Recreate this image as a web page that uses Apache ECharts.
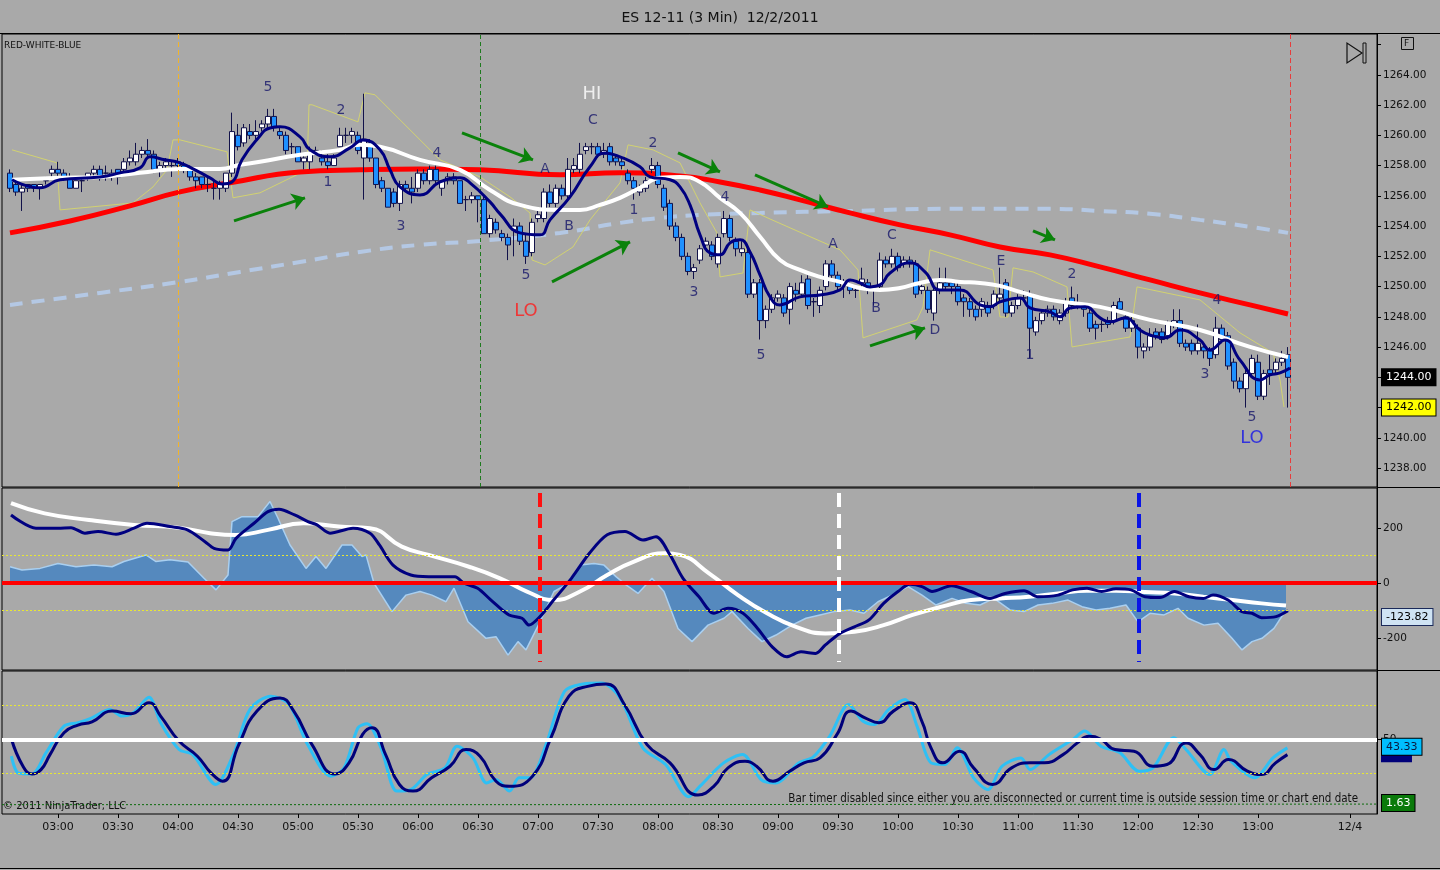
<!DOCTYPE html>
<html><head><meta charset="utf-8">
<script src="https://cdn.jsdelivr.net/npm/echarts@6/dist/echarts.min.js"></script>
<style>html,body{margin:0;padding:0;background:#A9A9A9;}#c{width:1440px;height:870px;}</style>
</head><body><div id="c"></div>
<script>
// ---------- price bars (3-minute, ES 12-11) ----------
const barOpen = [1257.5,1256.75,1256.25,1256.75,1256.75,1256.5,1257,1257.5,1257.75,1257.5,1257.25,1256.5,1257,1257.25,1257.5,1257.75,1257.5,1257.25,1257.75,1257.75,
1258.25,1258.25,1258.75,1259,1258.75,1257.75,1258,1258,1258.25,1258,1257.75,1257.25,1257.25,1256.75,1256.5,1256.5,1256.5,1257.5,1260,1259.5,
1260.25,1260,1260.5,1260.75,1261.25,1260.25,1260,1259.25,1259.25,1258.25,1258.25,1259,1258.5,1258.25,1258,1259.25,1260,1260,1260,1258.5,
1259.5,1258.5,1257,1256.5,1256.25,1255.5,1256.75,1256.5,1256.5,1257.5,1257,1257.75,1256.5,1257,1257.25,1257,1255.75,1255.75,1256,1255.75,
1253.5,1254.25,1253.5,1253.25,1253.75,1254,1253,1252.25,1254.5,1254.5,1256.25,1255.5,1256.5,1256,1257.75,1257.75,1259,1259.25,1259.25,1258.75,
1259.25,1258.5,1258.25,1257.5,1257,1256.25,1256.5,1257.75,1258,1256.5,1255.5,1254,1253.25,1252,1251,1251.75,1252.75,1252.75,1251.5,1253.5,
1254.5,1253,1252.25,1252.25,1249.5,1250.25,1247.75,1248.5,1249.25,1249.25,1248.5,1249.75,1249.5,1250.5,1249,1248.75,1250,1251.5,1250.75,1250.25,
1250,1249.75,1250.25,1250.25,1249.75,1250,1251.75,1251.5,1252,1251.5,1251.75,1251.5,1249.75,1249.75,1248.25,1249.75,1250.25,1250.25,1250,1249.25,
1249,1248.5,1248.5,1248.75,1248.75,1249.25,1250.25,1248.25,1248.75,1249.25,1249.5,1247,1247.75,1248.25,1248.5,1247.75,1248.25,1249.25,1248.75,1248.75,
1248.25,1247.5,1247.5,1247.75,1247.75,1249,1248,1247.25,1247.25,1245.75,1246,1247,1247,1246.75,1247.5,1247.75,1246.25,1246.25,1245.75,1246,
1245.75,1245.5,1247.25,1246.75,1245,1243.75,1243.25,1244.25,1245,1242.75,1244.5,1244.5,1245,1245.5];
const barHigh = [1257.75,1257,1256.75,1256.75,1256.75,1256.75,1257.25,1258,1258.25,1257.75,1257.5,1257,1257.25,1257.5,1258,1258,1258,1257.75,1257.75,1258.5,
1259,1259.5,1259.25,1259.75,1259,1258.25,1258.5,1258.25,1258.5,1258.25,1258,1257.5,1257.25,1257.25,1257,1257,1257.5,1261.5,1260.75,1260.75,
1260.75,1261,1261,1261.75,1261.75,1260.5,1260.25,1259.5,1259.25,1258.75,1259.25,1259.25,1259,1258.75,1258.75,1260.5,1260.5,1260.5,1260.25,1262.75,
1259.75,1258.5,1257.25,1256.5,1256.5,1257,1257,1257.25,1257.75,1257.75,1258,1258,1257,1257.5,1257.5,1257,1256,1256.25,1256,1256,
1254.75,1254.5,1253.75,1253.5,1254.5,1254.25,1253.5,1254.5,1255,1256.5,1256.75,1256.75,1256.75,1258.5,1258.5,1259.5,1259.5,1259.5,1259.5,1259.5,
1259.5,1258.75,1258.5,1257.75,1257.25,1256.75,1257.25,1258.5,1258.25,1256.75,1255.75,1254.25,1253.5,1252.25,1251.5,1252.75,1253.25,1253,1253.5,1255,
1254.75,1253.25,1253,1252.5,1250.5,1250.5,1248.75,1249.5,1249.75,1249.5,1250.25,1250.25,1250.75,1250.75,1249.25,1250,1251.75,1251.75,1251,1250.5,
1250.25,1250,1251.25,1250.5,1250,1252.25,1252,1252.5,1252.25,1252,1252,1251.75,1250.25,1250,1250,1251.25,1251.25,1250.5,1250.25,1249.5,
1249.25,1248.75,1249.25,1249,1249.75,1251.25,1250.5,1249,1249.5,1249.75,1249.75,1248,1248.5,1248.75,1248.75,1248.5,1249.25,1250,1249.5,1248.75,
1248.5,1247.75,1247.75,1248,1249,1249.25,1248.25,1248,1247.5,1246.25,1247.25,1247.25,1247.25,1247.75,1248.5,1248.5,1246.5,1246.5,1247.5,1246.25,
1246,1248,1247.5,1247,1245.25,1244,1244.5,1245.5,1245.5,1244.5,1245.5,1245.25,1245.75,1246];
const barLow = [1256.25,1256,1255,1256.25,1256.25,1255.75,1256.75,1257.25,1257.25,1257,1256.5,1256.5,1256.25,1257,1257.25,1257,1257,1257,1256.75,1257.5,
1258,1258,1258.5,1258.5,1257.5,1257.25,1257.75,1257.25,1257.75,1257.5,1257,1256.5,1256.5,1256.25,1255.75,1255.75,1256.25,1257.25,1259,1259.25,
1259.75,1259.75,1260.25,1260.5,1260.25,1259.75,1258.75,1258.75,1258.25,1257.75,1257.75,1258.75,1258,1257.75,1258,1259.25,1259.5,1259.5,1258.75,1255.75,
1258.25,1256.5,1256.25,1255.25,1255.25,1255,1256.25,1255.5,1256.25,1256.75,1256.75,1256.75,1256,1256.75,1256.75,1255.5,1255,1255.5,1254.25,1253.5,
1253.25,1253.5,1253,1251.75,1252,1252.75,1251.5,1252,1254.25,1254.25,1255.25,1255.25,1255.75,1255.75,1257.5,1257.5,1258.75,1258.75,1258.5,1258.5,
1258,1258,1257.75,1256.75,1255.75,1256,1256.25,1257.5,1256.5,1255,1253.75,1253,1251.75,1250.75,1250.5,1251.5,1252.5,1251.75,1251.25,1253.25,
1253,1252,1252,1249.25,1249.25,1246.5,1247.25,1248.25,1249,1248,1247.5,1249,1249.25,1248.5,1248,1248.25,1249.75,1250.5,1249.75,1249.25,
1249.5,1249.25,1250,1249.5,1248.75,1249.75,1251.25,1251.25,1251,1251.25,1251.25,1249.25,1249.5,1248.25,1247.75,1249.5,1249.75,1249.5,1248.75,1248,
1248,1247.75,1248,1248,1248.5,1249,1248,1248,1248.5,1249,1245.25,1246.75,1247.5,1248,1247.75,1247.5,1248,1248.5,1248.5,1248,
1247,1246.5,1247,1247.25,1247.5,1248.25,1247,1247,1245.25,1245.25,1245.75,1246.5,1246.25,1246.5,1247.25,1246,1245.75,1245.5,1245.5,1245.25,
1244.75,1245.25,1246.25,1244.5,1243.25,1243,1242,1244,1242.5,1242.5,1243.5,1244.25,1244.75,1242];
const barClose = [1256.5,1256.25,1256.5,1256.5,1256.5,1256.75,1257,1257.75,1257.5,1257.25,1256.5,1257,1257,1257.5,1257.75,1257.25,1257.5,1257.5,1257.25,1258.25,
1258.5,1258.75,1259,1258.75,1257.75,1258,1258.25,1258,1258,1257.75,1257.25,1257,1256.75,1256.75,1256.5,1256.75,1257.5,1260.25,1259.25,1260.5,
1260,1260.25,1260.75,1261.25,1260.5,1260,1259,1259.25,1258.25,1258.5,1258.75,1259,1258.25,1258,1258.5,1260,1260,1260.25,1259,1259.75,
1258.5,1256.75,1256.5,1255.25,1255.5,1256.75,1256.5,1256.25,1257.5,1257,1257.75,1257,1257,1257.25,1257,1255.5,1255.75,1256,1255.75,1253.5,
1254.5,1253.75,1253.25,1252.75,1254,1253,1252,1254.25,1254.75,1256.25,1255.5,1256.5,1256,1257.75,1258,1258.75,1259.25,1259.25,1258.75,1259,
1258.25,1258.25,1258,1257,1256.5,1256.5,1257,1258,1256.75,1255.25,1254,1253.25,1252,1251,1251.25,1252.5,1253,1252,1253.25,1254.5,
1253.25,1252.5,1252.5,1249.5,1250.25,1247.75,1248.5,1249.25,1249.5,1248.25,1250,1249.5,1250.25,1248.75,1249,1249.75,1251.5,1250.75,1250,1250.25,
1249.75,1249.75,1250.5,1249.75,1249.75,1251.75,1251.5,1252,1251.25,1251.75,1251.5,1249.5,1250,1248.5,1249.75,1250.25,1250,1250,1249,1249,
1248.5,1248,1249,1248.25,1249.5,1249.5,1248.25,1248.75,1249.25,1249.25,1247.25,1247.75,1248.25,1248.5,1248,1248.25,1249,1248.75,1248.75,1248.5,
1247.25,1247.25,1247.5,1247.5,1248.75,1248.5,1247.25,1247.75,1246,1246,1246.75,1246.75,1246.5,1247.5,1247.75,1246.25,1246,1245.75,1246.25,1245.75,
1245.25,1247.25,1246.5,1244.75,1243.75,1243.25,1244.25,1245.25,1242.75,1244.25,1244.25,1245,1245.25,1244];
// bar time stamps in minutes after midnight (first bar 02:36, every 3 minutes)
const barTimes = barOpen.map((_, i) => 156 + 3 * i);

// ---------- moving averages on price panel: [minute, price] ----------
const redMA = [[156,1253.55],[186,1254.34],[216,1255.34],[241,1256.26],[266,1256.86],[301,1257.58],[331,1257.72],[361,1257.78],[391,1257.72],[431,1257.39],[461,1257.52],[491,1257.32],[511,1256.92],[531,1256.39],[551,1255.73],[576,1254.87],[601,1254.08],[626,1253.42],[651,1252.62],[676,1252.1],[701,1251.3],[726,1250.44],[751,1249.58],[776,1248.79],[795,1248.19]];
const whiteMA = [[157,1257.06],[181,1257.19],[201,1257.25],[221,1257.52],[241,1257.78],[261,1257.78],[271,1258.05],[281,1258.25],[301,1258.71],[321,1259.04],[331,1259.37],[341,1259.24],[361,1258.38],[381,1257.72],[396,1256.39],[411,1255.4],[431,1255.07],[441,1255.07],[451,1255.4],[461,1255.87],[471,1256.53],[481,1257.19],[491,1257.25],[501,1256.92],[511,1255.87],[521,1254.87],[531,1253.3],[541,1251.76],[551,1251.1],[561,1250.64],[571,1250.31],[581,1249.91],[591,1249.78],[601,1249.91],[611,1250.24],[621,1250.44],[631,1250.31],[641,1250.24],[651,1250.05],[661,1249.65],[676,1249.12],[701,1248.66],[726,1247.8],[751,1247.13],[776,1246.01],[795,1245.35]];
const navyMA = [[157,1257.06],[171,1256.53],[181,1257.06],[201,1257.25],[211,1257.52],[221,1257.85],[226,1258.58],[233.5,1258.38],[241,1258.18],[248.5,1257.72],[256,1257.19],[262,1256.79],[267,1256.92],[272,1258.38],[280,1259.8],[286,1260.49],[291,1260.56],[301,1259.9],[306,1259.04],[316,1258.58],[326,1259.17],[332.5,1259.7],[341,1259.04],[346,1257.72],[351,1256.59],[361,1256.06],[371,1256.92],[381,1257.19],[386,1256.86],[396,1255.6],[401,1254.81],[411,1253.55],[421,1253.42],[426,1254.41],[436,1255.93],[446,1257.92],[453.5,1258.84],[461,1258.58],[471,1257.92],[476,1257.25],[486,1257.06],[491,1256.59],[496,1255.4],[501,1253.42],[506,1252.23],[511,1252.1],[516,1252.89],[521,1253.09],[526,1252.29],[531,1250.77],[536,1249.32],[541,1248.79],[551,1249.32],[561,1249.45],[571,1249.78],[576,1250.44],[581,1250.24],[586,1249.98],[591,1250.11],[596,1250.9],[606,1251.57],[613.5,1250.97],[621,1249.78],[631,1249.78],[641,1248.79],[646,1248.66],[651,1248.99],[661,1249.25],[666,1248.59],[676,1248.33],[681,1248],[686,1248.59],[693.5,1248.66],[701,1247.93],[706,1247.67],[713.5,1247.93],[721,1247.13],[726,1246.8],[733.5,1246.61],[741,1247.13],[751,1246.47],[756,1245.81],[763.5,1246.47],[771,1245.15],[781,1243.83],[786,1244.16],[791,1244.29],[796,1244.62]];
const slowMA = [[156,1248.79],[201,1249.58],[241,1250.31],[271,1250.97],[301,1251.63],[331,1252.29],[361,1252.76],[391,1253.02],[431,1253.55],[461,1254.21],[481,1254.54],[501,1254.74],[531,1254.87],[576,1255.0],[626,1255.14],[676,1255.14],[701,1255.0],[726,1254.81],[751,1254.41],[776,1253.95],[795,1253.55]];
const channel = [[157,1259.04],[179.5,1258.18],[181,1255.07],[217.5,1255.53],[227.5,1256.59],[234.5,1257.72],[237.5,1259.7],[241,1259.7],[264.5,1258.91],[267.5,1255.87],[281,1256.2],[304.5,1257.72],[305.5,1262.02],[307,1262.02],[330,1260.89],[333.5,1262.81],[338.5,1262.68],[371,1258.38],[391,1257.25],[406,1255.93],[416,1254.87],[417,1251.76],[423.5,1251.43],[437.5,1252.62],[446,1254.41],[461,1256.86],[465,1259.37],[477.5,1259.04],[491,1258.18],[501,1255.53],[509.5,1253.55],[511,1250.64],[522.5,1250.9],[526,1255.07],[537,1254.41],[571,1252.43],[580,1251.1],[582.5,1246.61],[609.5,1247.8],[612.5,1248.66],[616,1252.43],[647.5,1251.1],[651,1247.99],[655,1247.99],[657.5,1251.24],[667.5,1250.97],[684.5,1249.98],[687,1246.01],[716,1246.67],[719.5,1249.98],[751,1249.12],[771,1246.94],[787.5,1245.61],[791,1243.83],[793,1242.04]];

// wave-count annotations [minute, price, text, kind]
const chartNotes = [[285,1263.14,'5','w'],[321.5,1261.62,'2','w'],[315,1256.92,'1','w'],[351.5,1254.01,'3','w'],[369.5,1258.84,'4','w'],
[447.5,1260.96,'C','w'],[423.5,1257.72,'A','w'],[435.5,1253.95,'B','w'],[414,1250.71,'5','w'],[477.5,1259.5,'2','w'],[468,1255.07,'1','w'],
[513.5,1255.93,'4','w'],[498,1249.65,'3','w'],[531.5,1245.48,'5','w'],[567.5,1252.76,'A','w'],[597,1253.42,'C','w'],[589,1248.59,'B','w'],
[618.5,1247.13,'D','w'],[651.5,1251.7,'E','w'],[687,1250.84,'2','w'],[666,1245.48,'1','w'],[759.5,1249.12,'4','w'],[753.5,1244.22,'3','w'],
[777,1241.38,'5','w'],[447,1262.74,'HI','hi'],[414,1248.39,'LO','lo'],[777,1240.0,'LO','lo2']];
// trend arrows [minute1, price1, minute2, price2]
const trendArrows = [[268,1254.34,303.5,1255.87],[382,1260.16,417.5,1258.38],[427,1250.31,466,1252.96],[490,1258.84,511,1257.58],[528.5,1257.39,565,1255.27],[667.5,1253.68,678.5,1253.09],[586,1246.08,613.5,1247.27]];
const priceMarkers = [240, 391, 796];
const priceTags = [1244.00, 1242.00];

// ---------- CCI panel ----------
const cciHisto = [[156,59],[162,47],[171,53],[180,71],[189,59],[198,65],[207,59],[213,78],[224,102],[229,78],[236,84],[245,76],[253,17],[259,-25],[265,29],[267,223],[272,241],[280,241],[286,296],[290,235],[296,138],[304,53],[309,96],[314,53],[322,138],[327,138],[332,96],[334,102],[338,-1],[347,-104],[354,-44],[361,-31],[367,-44],[374,-68],[378,-19],[385,-141],[394,-201],[399,-195],[405,-262],[410,-213],[414,-243],[421,-141],[428,-31],[434,-7],[441,65],[448,71],[453,65],[459,23],[464,-7],[470,-38],[477,17],[483,-31],[490,-165],[497,-213],[505,-153],[513,-128],[517,-104],[525,-165],[532,-213],[539,-189],[547,-153],[554,-128],[561,-116],[568,-104],[576,-98],[583,-110],[590,-68],[597,-44],[605,-13],[612,-44],[619,-80],[627,-56],[634,-74],[641,-80],[648,-56],[656,-98],[663,-104],[670,-80],[677,-74],[685,-62],[692,-86],[699,-98],[706,-92],[714,-80],[720,-141],[726,-110],[733,-116],[740,-92],[745,-128],[753,-153],[760,-146],[767,-201],[772,-243],[777,-213],[782,-201],[788,-165],[794,-98]];
const cciLine = [[156.5,247],[169,199],[180,199],[186.5,201],[193.5,181],[200,187],[209,177],[218,199],[224.5,217],[236,205],[244.7,193],[253.5,150],[258,126],[265,120],[269,162],[278,217],[285,259],[290.5,268],[298.3,247],[305,223],[309.5,211],[316,181],[327.5,199],[336,181],[340.7,138],[347.5,65],[356.4,29],[365.3,23],[374,23],[378.5,23],[383,-1],[389.8,-19],[396.5,-62],[405.5,-116],[412,-128],[415.5,-153],[421,-122],[427.8,-62],[436.7,17],[445.7,108],[454.6,175],[463.5,187],[472.5,156],[479,168],[486,102],[492.5,17],[500.5,-50],[508,-110],[515,-92],[522.5,-110],[529.8,-165],[537,-231],[544.3,-268],[551.5,-250],[558.8,-256],[563.7,-225],[571,-183],[578.2,-159],[585.5,-134],[592.8,-74],[600,-31],[606,-5],[612,-13],[617,-31],[626.7,-10],[636.5,-31],[646,-56],[653.5,-38],[663,-28],[670,-50],[680,-44],[687.3,-25],[694.5,-19],[701.8,-31],[709,-21],[716.5,-25],[723.5,-50],[731,-53],[738.2,-31],[745.5,-50],[752.7,-56],[757.5,-44],[765,-62],[772,-104],[777,-110],[781.8,-126],[789,-122],[795,-101]];
const cciAvg = [[156.5,290],[173.3,253],[195.5,229],[218,211],[240.3,201],[256,181],[269,174],[285,193],[302.8,217],[320.5,205],[336,199],[351.9,132],[365.3,102],[385.5,59],[401,17],[414.5,-31],[427.8,-62],[441,-31],[454.6,29],[468,78],[483.5,108],[491,102],[505.5,35],[520,-44],[534.5,-110],[549,-159],[563.7,-183],[578.2,-177],[592.8,-153],[607.3,-116],[621.9,-86],[636.5,-62],[651,-56],[665.5,-50],[680,-38],[694.5,-28],[709,-28],[723.5,-33],[738.2,-38],[752.7,-50],[767.3,-62],[781.8,-74],[794,-82]];
const cciMarkers = [[421,'#FF1010'],[570.5,'#FFFFFF'],[720.5,'#0A14E6']];
const cciLast = -123.82;

// ---------- stochastic panel ----------
const stochD = [[156.7,50.5],[162.5,26.1],[167,19.3],[171.5,23.1],[176,36.4],[183,55.8],[190,62.6],[197,65.5],[207,75],[216.5,72.6],[225.5,82.4],[231.3,70.6],[240.5,48.4],[249.7,35],[256.5,20.2],[262.3,12.8],[270.4,45.3],[279.5,75],[291,86.7],[297.9,75],[307,45.3],[318.5,19.3],[325.5,29.1],[332.3,54.3],[337,60.2],[343.8,36.4],[350.7,9.9],[357.5,4],[366.8,15.8],[376,26.1],[384,40.9],[391,35],[399,12.8],[405.8,8.4],[417.3,17.3],[426.5,51.4],[435.5,88.2],[444.8,97],[454,99.1],[463.2,80.9],[474.5,45.3],[486,29.1],[500,0.5],[508,8.4],[515,24.6],[523.5,30.5],[529.3,26.1],[537.5,12.8],[545.8,21.7],[553,29.1],[561,33.5],[569.5,54.3],[576.5,75],[583.5,69.1],[590.5,64.7],[597.7,75],[606,82.4],[611.9,66.2],[616.5,42.4],[622.5,29.1],[630.8,39.4],[637.8,24.6],[647.3,9.9],[656.8,24.6],[666,29.1],[673.2,29.1],[682.5,36.4],[689.7,46.8],[695.5,52.8],[701.5,49.8],[708.5,40.9],[718,39.4],[727.5,26.1],[734.5,27.6],[744,46.8],[751,36.4],[758,23.1],[765.2,32],[774.7,21.7],[781.8,18.7],[788.8,29.1],[794.7,36.4]];
const stochK = [[156.7,35],[160.2,20],[167,19.3],[174,38],[183,61.7],[190,64.7],[197,69.1],[206,76.5],[211.9,70.6],[217.6,73.5],[225.5,87.3],[231.3,64.7],[240.5,40.9],[247.4,36.4],[258.9,9.9],[268,38],[276,76.5],[286.5,88.2],[295.5,80.9],[304.8,45.3],[316.3,17.3],[323,24.6],[330,60.2],[334.5,63.8],[341.5,42.4],[349.5,4],[356.5,5.5],[364.5,18.7],[373.5,24.6],[379.5,43.9],[387.5,33.5],[394.3,11.3],[399,14.3],[405.8,4],[410.5,15.8],[416,15.8],[424,45.3],[433.3,92.6],[442.5,99.1],[451.7,100],[461,86.7],[472.4,42.4],[483.8,27.6],[495.4,-1],[501,8.4],[512.8,29.1],[522.3,36.4],[531.5,14.3],[538.8,11.3],[550.5,29.1],[557.5,34.1],[565.9,52.8],[575.3,80.9],[582.4,66.2],[588.3,63.2],[595.4,76.5],[603.5,85.3],[609.5,61.7],[616.5,29.1],[623.5,27.6],[629.5,42.4],[637.8,15.8],[645,5.5],[652,26.1],[661.5,33.5],[666,23.1],[675.5,36.4],[687.4,49.8],[693.3,57.3],[701.5,43.9],[711,38],[720.5,21.7],[727.5,24.6],[738,51.4],[744,40.9],[755.9,18.7],[763,40.9],[766.5,30.5],[778.3,15.8],[787.5,33.5],[794.7,42.4]];
const stochLevels = [80, 50, 20];
const stochLast = 43.33;
const extraIndicator = [[152,-8],[420,-8],[421,-7.5],[839.5,-7.5]];
const extraLast = 1.63;

// ---------- axes ticks ----------
const timeTicks = [180,210,240,270,300,330,360,390,420,450,480,510,540,570,600,630,660,690,720,750,780,826];
const priceTicks = [1238,1240,1242,1244,1246,1248,1250,1252,1254,1256,1258,1260,1262,1264];
const cciTicks = [-200, 0, 200];

const fmtTime = v => v === 826 ? '12/4' : String(Math.floor(v / 60)).padStart(2, '0') + ':' + String(v % 60).padStart(2, '0');
const FONT = 'DejaVu Sans';
const noteStyle = {
  w:  {color: '#16166A', fontSize: 14},
  hi: {color: '#FFFFFF', fontSize: 18},
  lo: {color: '#FF1A1A', fontSize: 18},
  lo2:{color: '#1414E8', fontSize: 18}
};
const CLEAR = 'rgba(0,0,0,0)';
const tag = (value, text, bg, fg, border) => ({
  yAxis: value, lineStyle: {color: CLEAR, width: 1},
  label: {show: true, position: 'end', formatter: text, color: fg, backgroundColor: bg,
    borderColor: border || bg, borderWidth: 1, padding: [3, 4, 2, 4], fontSize: 11, fontFamily: FONT, distance: 5}
});

const chart = echarts.init(document.getElementById('c'), null, {renderer: 'canvas'});
const X0 = 152, X1 = 839.5;
const hiddenX = gi => ({type: 'value', gridIndex: gi, min: X0, max: X1, show: false, axisLine: {onZero: false}, splitLine: {show: false}});
const gridBase = {left: 2, right: 63, show: true, borderColor: '#000', borderWidth: 1, backgroundColor: 'transparent'};

const option = {
  backgroundColor: '#A9A9A9',
  animation: false,
  title: {text: 'ES 12-11 (3 Min)  12/2/2011', left: 'center', top: 6,
    textStyle: {fontSize: 14, fontWeight: 'normal', color: '#111', fontFamily: FONT}},
  grid: [
    Object.assign({top: 34, height: 453}, gridBase),
    Object.assign({top: 488, height: 182}, gridBase),
    Object.assign({top: 671, height: 143}, gridBase)
  ],
  xAxis: [hiddenX(0), hiddenX(1), {
    type: 'value', gridIndex: 2, min: X0, max: X1, position: 'bottom',
    axisLine: {show: false, onZero: false}, splitLine: {show: false},
    axisTick: {show: true, inside: false, customValues: timeTicks, length: 4, lineStyle: {color: '#000'}},
    axisLabel: {show: true, customValues: timeTicks, formatter: fmtTime, color: '#111', fontSize: 11, fontFamily: FONT, margin: 8}
  }],
  yAxis: [
    {type: 'value', gridIndex: 0, position: 'right', min: 1236.75, max: 1266.7, splitLine: {show: false},
      axisLine: {show: true, onZero: false, lineStyle: {color: '#000'}},
      axisTick: {show: true, customValues: priceTicks.concat([1266]), length: 4, lineStyle: {color: '#000'}},
      axisLabel: {customValues: priceTicks, formatter: v => v.toFixed(2), color: '#111', fontSize: 10.5, fontFamily: FONT, margin: 6}},
    {type: 'value', gridIndex: 1, position: 'right', min: -316, max: 345, splitLine: {show: false},
      axisLine: {show: true, onZero: false, lineStyle: {color: '#000'}},
      axisTick: {show: true, customValues: cciTicks, length: 4, lineStyle: {color: '#000'}},
      axisLabel: {customValues: cciTicks, color: '#111', fontSize: 10.5, fontFamily: FONT, margin: 6}},
    {type: 'value', gridIndex: 2, position: 'right', min: -16.3, max: 110.6, splitLine: {show: false},
      axisLine: {show: true, onZero: false, lineStyle: {color: '#000'}},
      axisTick: {show: true, customValues: [50], length: 4, lineStyle: {color: '#000'}},
      axisLabel: {customValues: [50], color: '#111', fontSize: 10.5, fontFamily: FONT, margin: 6}}
  ],
  series: [
    // slow dashed MA + vertical session markers
    {type: 'line', xAxisIndex: 0, yAxisIndex: 0, data: slowMA, smooth: true, showSymbol: false, z: 1,
      lineStyle: {color: '#B4C8E4', width: 4, type: [13, 9]},
      markLine: {silent: true, symbol: ['none', 'none'], label: {show: false}, data: [
        {xAxis: priceMarkers[0], lineStyle: {color: '#F2B428', width: 1, type: [5, 3]}},
        {xAxis: priceMarkers[1], lineStyle: {color: '#1E7A1E', width: 1, type: [4, 3]}},
        {xAxis: priceMarkers[2], lineStyle: {color: '#E83C3C', width: 1, type: [5, 3]}}
      ]}},
    {type: 'line', xAxisIndex: 0, yAxisIndex: 0, data: channel, showSymbol: false, z: 1,
      lineStyle: {color: '#D6D66A', width: 1, opacity: 0.9}},
    {type: 'line', xAxisIndex: 0, yAxisIndex: 0, data: redMA, smooth: true, showSymbol: false, z: 2,
      lineStyle: {color: '#FF0000', width: 5}},
    {type: 'candlestick', xAxisIndex: 0, yAxisIndex: 0, z: 3, barWidth: 5,
      data: barTimes.map((t, i) => [t, barOpen[i], barClose[i], barLow[i], barHigh[i]]),
      encode: {x: 0, y: [1, 2, 3, 4]},
      itemStyle: {color: '#FFFFFF', color0: '#1E90FF', borderColor: '#12124A', borderColor0: '#12124A', borderWidth: 1}},
    {type: 'line', xAxisIndex: 0, yAxisIndex: 0, data: whiteMA, smooth: true, showSymbol: false, z: 4,
      lineStyle: {color: '#FFFFFF', width: 4}},
    {type: 'line', xAxisIndex: 0, yAxisIndex: 0, data: navyMA, smooth: true, showSymbol: false, z: 5,
      lineStyle: {color: '#000080', width: 3},
      markLine: {silent: true, symbol: ['none', 'none'], data: [
        tag(priceTags[0], priceTags[0].toFixed(2), '#000000', '#FFFFFF'),
        tag(priceTags[1], priceTags[1].toFixed(2), '#FFFF00', '#000000', '#000000')
      ]}},
    {type: 'lines', coordinateSystem: 'cartesian2d', xAxisIndex: 0, yAxisIndex: 0, z: 6,
      symbol: ['none', 'arrow'], symbolSize: 13,
      lineStyle: {color: '#0A820A', width: 3, opacity: 1, curveness: 0},
      data: trendArrows.map(a => ({coords: [[a[0], a[1]], [a[2], a[3]]]}))},
    {type: 'scatter', xAxisIndex: 0, yAxisIndex: 0, z: 7, symbolSize: 1, itemStyle: {color: CLEAR}, silent: true,
      data: chartNotes.map(n => ({value: [n[0], n[1]], label: Object.assign({show: true, position: 'inside', formatter: n[2], fontFamily: FONT}, noteStyle[n[3]])}))},

    // CCI panel
    {type: 'line', xAxisIndex: 1, yAxisIndex: 1, data: cciHisto, showSymbol: false, z: 2,
      lineStyle: {color: '#A9CFF0', width: 1.5}, areaStyle: {color: '#5589BE', opacity: 1},
      markLine: {silent: true, symbol: ['none', 'none'], label: {show: false}, data: [
        {yAxis: 100, lineStyle: {color: '#E8E830', width: 1, type: [2, 2]}},
        {yAxis: -100, lineStyle: {color: '#E8E830', width: 1, type: [2, 2]}},
        {yAxis: 0, lineStyle: {color: '#FF0000', width: 4, type: 'solid'}}
      ]}},
    {type: 'line', xAxisIndex: 1, yAxisIndex: 1, data: cciAvg, smooth: true, showSymbol: false, z: 3,
      lineStyle: {color: '#FFFFFF', width: 4}},
    {type: 'line', xAxisIndex: 1, yAxisIndex: 1, data: cciLine, smooth: 0.3, showSymbol: false, z: 4,
      lineStyle: {color: '#000080', width: 3},
      markLine: {silent: true, symbol: ['none', 'none'], data: [
        tag(cciLast, cciLast.toFixed(2), '#CFE3F3', '#000000', '#1B2A5A')
      ]}},
    ...cciMarkers.map(mk => ({type: 'line', xAxisIndex: 1, yAxisIndex: 1, z: 5, showSymbol: false,
      data: [[mk[0], 327], [mk[0], -287]], lineStyle: {color: mk[1], width: 4, type: [14, 7]}})),

    // Stochastic panel
    {type: 'line', xAxisIndex: 2, yAxisIndex: 2, data: extraIndicator, showSymbol: false, z: 1,
      lineStyle: {color: '#0B6B0B', width: 1, type: [2, 2]},
      markLine: {silent: true, symbol: ['none', 'none'], label: {show: false}, data: [
        {yAxis: stochLevels[0], lineStyle: {color: '#E8E830', width: 1, type: [2, 2]}},
        {yAxis: stochLevels[2], lineStyle: {color: '#E8E830', width: 1, type: [2, 2]}},
        {yAxis: stochLevels[1], lineStyle: {color: '#FFFFFF', width: 4, type: 'solid'}},
        tag(-6.5, extraLast.toFixed(2), '#0A7A0A', '#FFFFFF', '#000000')
      ]}},
    {type: 'line', xAxisIndex: 2, yAxisIndex: 2, data: stochK, smooth: 0.3, showSymbol: false, z: 2,
      lineStyle: {color: '#2EC0F5', width: 3}},
    {type: 'line', xAxisIndex: 2, yAxisIndex: 2, data: stochD, smooth: true, showSymbol: false, z: 3,
      lineStyle: {color: '#00007A', width: 3},
      markLine: {silent: true, symbol: ['none', 'none'], data: [
        tag(37.5, '      ', '#00007A', '#FFFFFF'),
        tag(stochLast, stochLast.toFixed(2), '#00BFFF', '#0A1A40', '#000000')
      ]}}
  ],
  graphic: [
    {type: 'text', left: 4, top: 41, style: {text: 'RED-WHITE-BLUE', fill: '#111', font: '9px "DejaVu Sans"'}},
    {type: 'text', left: 3, top: 801, style: {text: '\u00A9 2011 NinjaTrader, LLC', fill: '#111', font: '10px "DejaVu Sans"'}},
    {type: 'text', right: 82, top: 793, style: {text: 'Bar timer disabled since either you are disconnected or current time is outside session time or chart end date', fill: '#111', font: '11.5px "DejaVu Sans Condensed", "DejaVu Sans"'}},
    {type: 'line', shape: {x1: 1377, y1: 487.5, x2: 1440, y2: 487.5}, style: {stroke: '#000', lineWidth: 1}},
    {type: 'line', shape: {x1: 1377, y1: 670.5, x2: 1440, y2: 670.5}, style: {stroke: '#000', lineWidth: 1}},
    {type: 'line', shape: {x1: 0, y1: 33.5, x2: 1440, y2: 33.5}, style: {stroke: '#000', lineWidth: 1}},
    {type: 'line', shape: {x1: 0, y1: 868.5, x2: 1440, y2: 868.5}, style: {stroke: '#000', lineWidth: 1}},
    {type: 'polygon', shape: {points: [[1347, 43], [1347, 63], [1362, 53]]}, style: {fill: 'none', stroke: '#111', lineWidth: 1.2}},
    {type: 'rect', shape: {x: 1363, y: 43, width: 3, height: 20}, style: {fill: 'none', stroke: '#111', lineWidth: 1}},
    {type: 'rect', shape: {x: 1401.5, y: 37.5, width: 12, height: 12}, style: {fill: 'none', stroke: '#111', lineWidth: 1}},
    {type: 'text', x: 1404, y: 39, style: {text: 'F', fill: '#111', font: '9px "DejaVu Sans"'}}
  ]
};
chart.setOption(option);
</script></body></html>
